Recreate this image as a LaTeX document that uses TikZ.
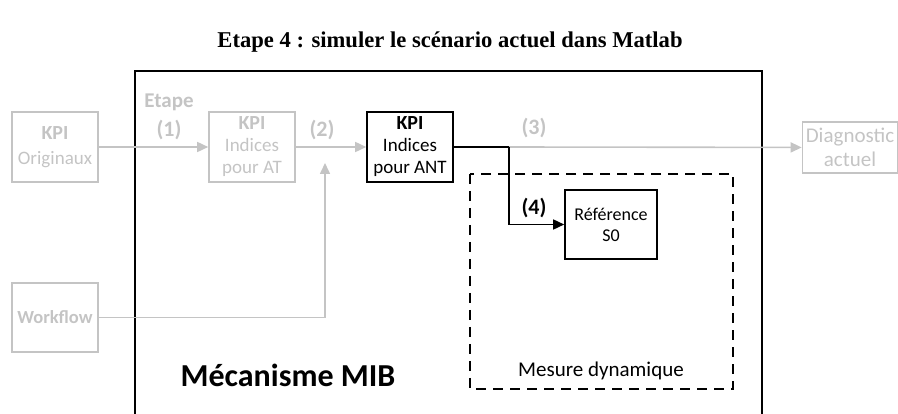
\documentclass[tikz,border=0pt]{standalone}
\usepackage{fontspec}
\usepackage{xcolor}
\usepackage{tikz}
\usetikzlibrary{arrows.meta,positioning}
\setmainfont{Carlito}
\newfontfamily\titlefont{Liberation Serif}
\definecolor{Faded}{HTML}{C4C4C4}
\definecolor{Ink}{HTML}{000000}
\newcommand{\fs}[1]{\fontsize{#1}{1.16\dimexpr#1pt\relax}\selectfont}

\begin{document}
\begin{tikzpicture}[
  x=1pt, y=-1pt,
  block/.style={
    draw=Ink,
    line width=1.6pt,
    align=center,
    inner sep=0pt,
    minimum width=86pt,
    minimum height=70pt,
    font=\fs{19}
  },
  faded/.style={
    block,
    draw=Faded,
    text=Faded
  },
  steplabel/.style={font=\bfseries\fs{22}},
  flow/.style={-{Triangle[length=11pt,width=10pt]},line width=1.6pt,draw=Ink},
  fadedflow/.style={flow,draw=Faded}
]
  \useasboundingbox (0,0) rectangle (898,414);

  \node[font=\titlefont\bfseries\fs{22.6}] (title) at (450,42) {Etape 4 : simuler le scénario actuel dans Matlab};

  \begin{scope}
    \clip (0,0) rectangle (898,414);
    \draw[line width=2.6pt] (135,71) rectangle (762,430);
  \end{scope}
  \draw[line width=2.6pt, dash pattern=on 10pt off 7pt] (470,174) rectangle (733,389);

  \node[faded] (orig) at (55,147) {{\bfseries\fs{20}KPI}\\[3pt]Originaux};
  \node[faded] (at) at (252,147) {{\bfseries\fs{20}KPI}\\Indices\\pour AT};
  \node[block] (ant) at (410,147) {{\bfseries\fs{20}KPI}\\Indices\\pour ANT};
  \node[faded, minimum height=69pt, font=\bfseries\fs{18.5}] (wf) at (55,317.5) {Workflow};
  \node[faded, minimum width=95pt, minimum height=51pt, font=\fs{21}] (diag) at (850,147.5) {Diagnostic\\actuel};
  \node[block, minimum width=92pt, minimum height=69pt, font=\fs{18}] (ref) at (611,224.5) {Référence\\S0};

  \coordinate (join) at (325,163);
  \coordinate (split) at (509,147);

  \draw[fadedflow] (orig) -- (at);
  \draw[fadedflow] (at) -- (ant);
  \draw[fadedflow] (wf.east) -| (join);
  \draw[fadedflow] (split) -- (diag);
  \draw[flow, -] (ant.east) -- (split);
  \draw[flow] (split) |- (ref.west);

  \node[font=\bfseries\fs{21}, text=Faded] (etape) at (169,102) {Etape};
  \node[steplabel, text=Faded] (s1) at (169,130) {(1)};
  \node[steplabel, text=Faded] (s2) at (322,130) {(2)};
  \node[steplabel, text=Faded] (s3) at (534,128) {(3)};
  \node[steplabel] (s4) at (534,208) {(4)};

  \node[font=\bfseries\fs{32}] (mib) at (288,375) {Mécanisme MIB};
  \node[font=\fs{21}] (mesure) at (601,371) {Mesure dynamique};
\end{tikzpicture}
\end{document}
